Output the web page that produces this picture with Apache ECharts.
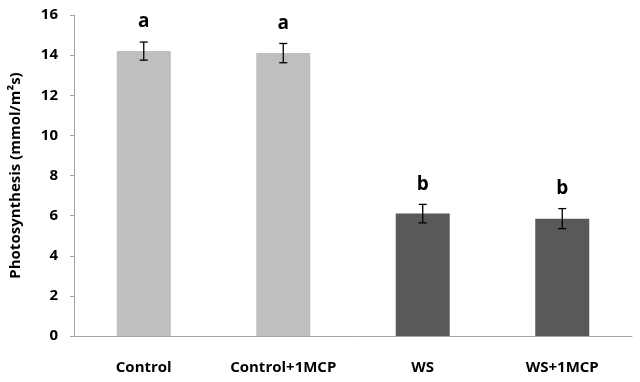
<!DOCTYPE html>
<html>
<head>
<meta charset="utf-8">
<script src="https://cdn.jsdelivr.net/npm/echarts@6/dist/echarts.min.js"></script>
<style>
  html, body { margin: 0; padding: 0; background: #fff; }
  #chart { width: 640px; height: 382px; }
</style>
</head>
<body>
<div id="chart"></div>
<script>
var categories = ['Control', 'Control+1MCP', 'WS', 'WS+1MCP'];
var means = [14.2, 14.1, 6.1, 5.85];
var errors = [0.45, 0.48, 0.46, 0.5];
var letters = ['a', 'a', 'b', 'b'];
var barColors = ['#bfbfbf', '#bfbfbf', '#595959', '#595959'];

var font = '"Open Sans", Lato, sans-serif';

var chart = echarts.init(document.getElementById('chart'));

chart.setOption({
  animation: false,
  grid: { left: 73, right: 8, top: 15, bottom: 46 },
  xAxis: {
    type: 'category',
    data: categories,
    axisLine: { lineStyle: { color: '#a6a6a6', width: 1 } },
    axisTick: { length: 5, lineStyle: { color: '#a6a6a6' } },
    axisLabel: {
      margin: 24,
      color: '#000',
      fontFamily: font,
      fontWeight: 'bold',
      fontSize: 15
    }
  },
  yAxis: {
    type: 'value',
    min: 0,
    max: 16,
    interval: 2,
    name: 'Photosynthesis (mmol/m²s)',
    nameLocation: 'middle',
    nameGap: 51,
    nameTextStyle: {
      color: '#000',
      fontFamily: font,
      fontWeight: 'bold',
      fontSize: 15
    },
    axisLine: { show: true, lineStyle: { color: '#a6a6a6', width: 1 } },
    axisTick: { show: true, length: 4, lineStyle: { color: '#a6a6a6' } },
    splitLine: { show: false },
    axisLabel: {
      margin: 16,
      color: '#000',
      fontFamily: font,
      fontWeight: 'bold',
      fontSize: 15
    }
  },
  series: [
    {
      type: 'bar',
      barWidth: 54,
      data: means.map(function (v, i) {
        return { value: v, itemStyle: { color: barColors[i] } };
      })
    },
    {
      type: 'custom',
      data: means.map(function (v, i) { return [i, v, errors[i]]; }),
      renderItem: function (params, api) {
        var i = api.value(0);
        var m = api.value(1);
        var e = api.value(2);
        var top = api.coord([i, m + e]);
        var bot = api.coord([i, m - e]);
        var cap = 4;
        var style = { stroke: '#000', lineWidth: 1.3 };
        return {
          type: 'group',
          children: [
            { type: 'line', shape: { x1: top[0], y1: top[1], x2: bot[0], y2: bot[1] }, style: style },
            { type: 'line', shape: { x1: top[0] - cap, y1: top[1], x2: top[0] + cap, y2: top[1] }, style: style },
            { type: 'line', shape: { x1: bot[0] - cap, y1: bot[1], x2: bot[0] + cap, y2: bot[1] }, style: style },
            {
              type: 'text',
              x: top[0],
              y: top[1] - 20,
              style: {
                text: letters[params.dataIndex],
                fill: '#000',
                font: 'bold 19px ' + font,
                align: 'center',
                verticalAlign: 'middle'
              }
            }
          ]
        };
      },
      z: 5
    }
  ]
});
</script>
</body>
</html>
